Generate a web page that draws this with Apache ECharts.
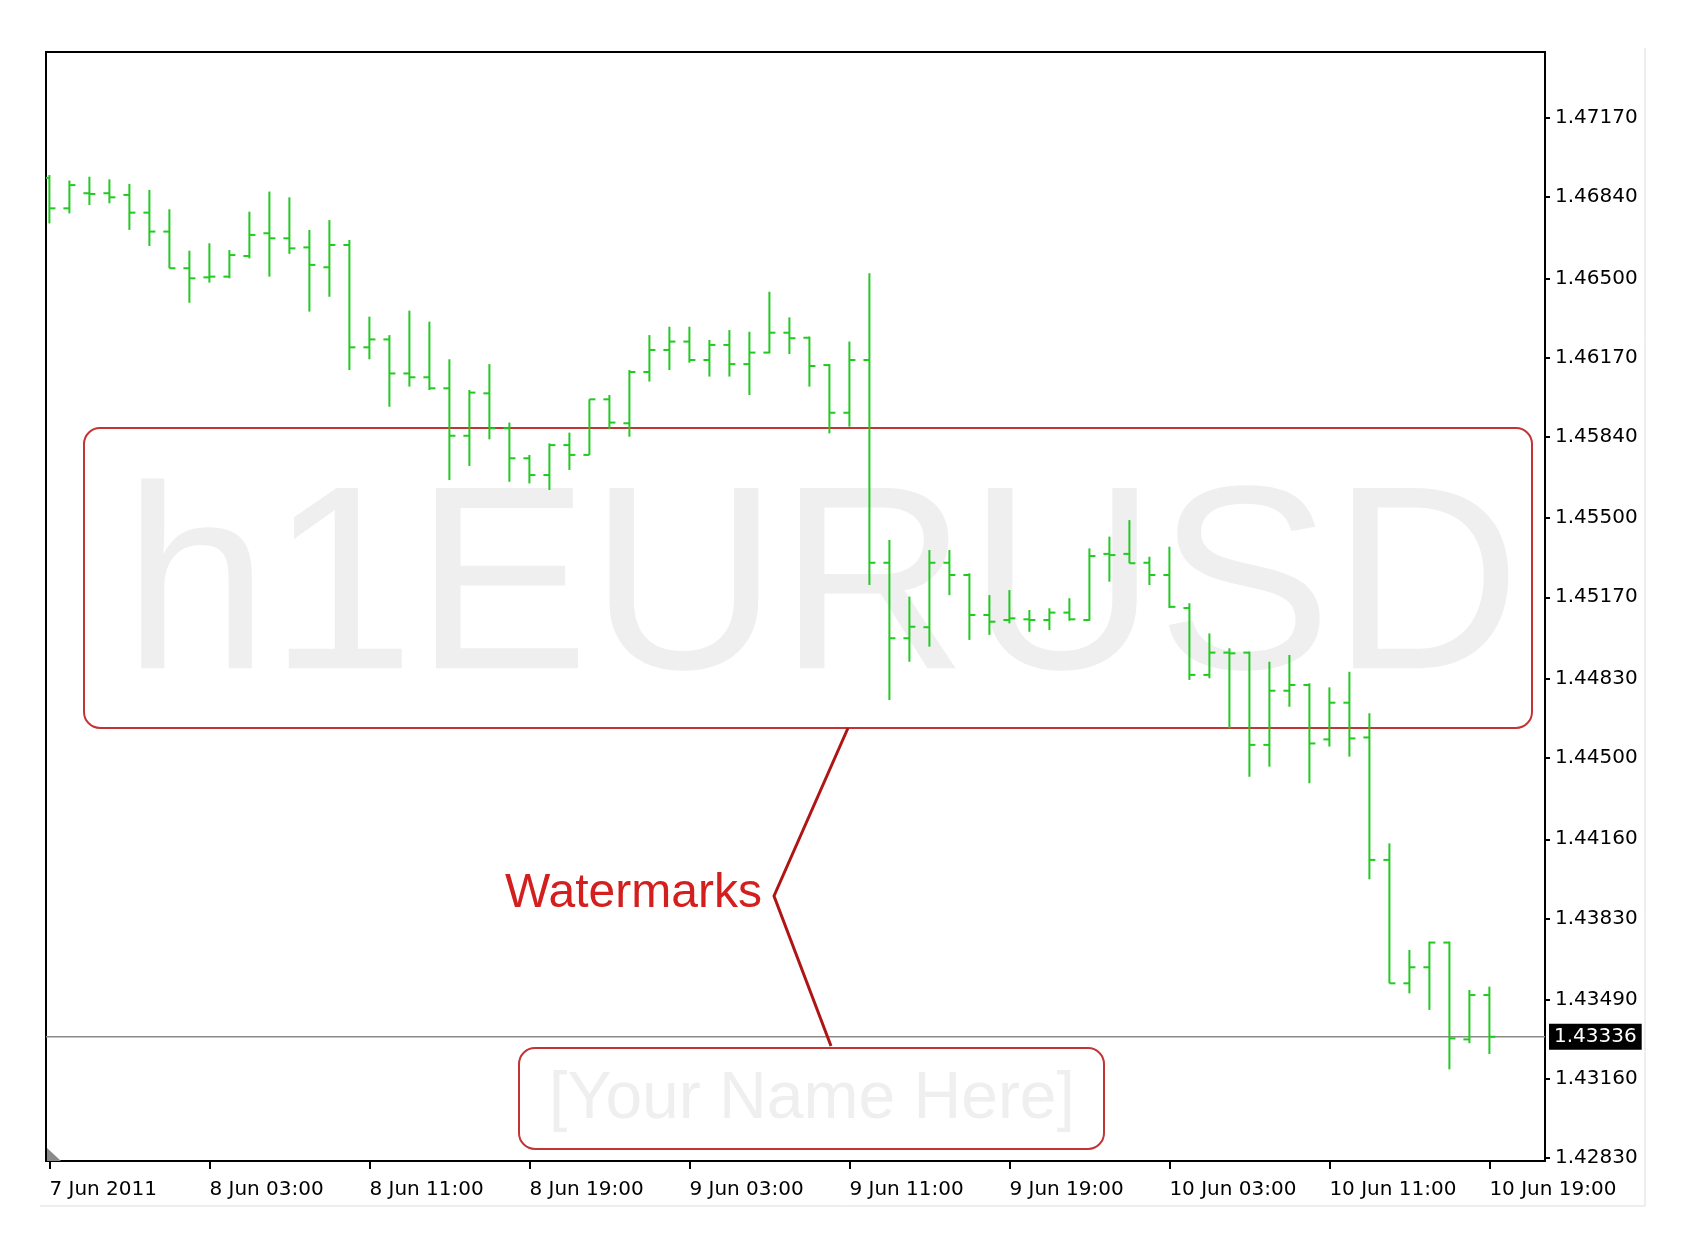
<!DOCTYPE html>
<html><head><meta charset="utf-8">
<script src="https://cdn.jsdelivr.net/npm/echarts@6/dist/echarts.min.js"></script>
<style>html,body{margin:0;padding:0;background:#fff;}#c{width:1686px;height:1256px;}</style>
</head><body><div id="c"></div>
<script>
// ---- data (hourly EURUSD bars, 7 Jun 2011 19:00 .. 10 Jun 2011 19:00) ----
const xTickBars = [0, 8, 16, 24, 32, 40, 48, 56, 64, 72];
const xTickLabels = ['7 Jun 2011', '8 Jun 03:00', '8 Jun 11:00', '8 Jun 19:00', '9 Jun 03:00',
  '9 Jun 11:00', '9 Jun 19:00', '10 Jun 03:00', '10 Jun 11:00', '10 Jun 19:00'];
const yTickLabels = ['1.42830', '1.43160', '1.43490', '1.43830', '1.44160', '1.44500', '1.44830',
  '1.45170', '1.45500', '1.45840', '1.46170', '1.46500', '1.46840', '1.47170'];

const openP = [
  1.46920, 1.46793, 1.46856, 1.46856, 1.46849, 1.46775, 1.46696, 1.46543, 1.46505, 1.46508,
  1.46594, 1.46689, 1.46668, 1.46630, 1.46547, 1.46640, 1.46213, 1.46246, 1.46104, 1.46088,
  1.46042, 1.45844, 1.46021, 1.45875, 1.45750, 1.45680, 1.45805, 1.45764, 1.45996, 1.45896,
  1.46110, 1.46202, 1.46237, 1.46160, 1.46223, 1.46143, 1.46191, 1.46274, 1.46253, 1.46139,
  1.45940, 1.46160, 1.45314, 1.44999, 1.45045, 1.45314, 1.45263, 1.45096, 1.45075, 1.45078,
  1.45075, 1.45106, 1.45075, 1.45351, 1.45351, 1.45314, 1.45263, 1.45125, 1.44846, 1.44939,
  1.44939, 1.44554, 1.44780, 1.44804, 1.44577, 1.44730, 1.44585, 1.44074, 1.43559, 1.43626,
  1.43729, 1.43325, 1.43510];
const highP = [
  1.46932, 1.46909, 1.46925, 1.46914, 1.46895, 1.46870, 1.46789, 1.46616, 1.46647, 1.46619,
  1.46779, 1.46863, 1.46839, 1.46703, 1.46744, 1.46661, 1.46341, 1.46264, 1.46366, 1.46320,
  1.46163, 1.46035, 1.46143, 1.45899, 1.45764, 1.45812, 1.45857, 1.45996, 1.46014, 1.46118,
  1.46264, 1.46299, 1.46299, 1.46244, 1.46285, 1.46278, 1.46445, 1.46338, 1.46258, 1.46143,
  1.46237, 1.46522, 1.45409, 1.45173, 1.45367, 1.45367, 1.45270, 1.45179, 1.45200, 1.45117,
  1.45124, 1.45166, 1.45374, 1.45423, 1.45492, 1.45339, 1.45381, 1.45145, 1.45019, 1.44957,
  1.44943, 1.44901, 1.44929, 1.44811, 1.44794, 1.44859, 1.44686, 1.44143, 1.43698, 1.43733,
  1.43733, 1.43531, 1.43545];
const lowP = [
  1.46730, 1.46772, 1.46807, 1.46814, 1.46703, 1.46636, 1.46543, 1.46399, 1.46483, 1.46501,
  1.46584, 1.46508, 1.46603, 1.46362, 1.46424, 1.46118, 1.46163, 1.45965, 1.46049, 1.46035,
  1.45659, 1.45718, 1.45829, 1.45652, 1.45645, 1.45618, 1.45701, 1.45764, 1.45871, 1.45840,
  1.46070, 1.46118, 1.46149, 1.46091, 1.46091, 1.46014, 1.46188, 1.46185, 1.46049, 1.45854,
  1.45882, 1.45221, 1.44741, 1.44901, 1.44964, 1.45179, 1.44992, 1.45013, 1.45061, 1.45026,
  1.45033, 1.45072, 1.45072, 1.45235, 1.45312, 1.45221, 1.45125, 1.44825, 1.44832, 1.44623,
  1.44421, 1.44463, 1.44713, 1.44394, 1.44547, 1.44505, 1.43993, 1.43559, 1.43517, 1.43448,
  1.43200, 1.43309, 1.43264];
const closeP = [
  1.46793, 1.46890, 1.46853, 1.46839, 1.46775, 1.46696, 1.46543, 1.46501, 1.46508, 1.46598,
  1.46682, 1.46668, 1.46626, 1.46557, 1.46640, 1.46213, 1.46246, 1.46104, 1.46088, 1.46042,
  1.45844, 1.46024, 1.45875, 1.45750, 1.45680, 1.45805, 1.45764, 1.45996, 1.45899, 1.46110,
  1.46202, 1.46237, 1.46160, 1.46223, 1.46143, 1.46191, 1.46274, 1.46251, 1.46135, 1.45940,
  1.46160, 1.45314, 1.44999, 1.45047, 1.45314, 1.45263, 1.45096, 1.45068, 1.45082, 1.45075,
  1.45106, 1.45078, 1.45342, 1.45346, 1.45312, 1.45263, 1.45130, 1.44846, 1.44939, 1.44936,
  1.44554, 1.44780, 1.44804, 1.44560, 1.44730, 1.44581, 1.44074, 1.43559, 1.43626, 1.43729,
  1.43329, 1.43510, 1.43336];
const watermarkMain = 'h1EURUSD';
const watermarkName = '[Your Name Here]';
const annotationText = 'Watermarks';

// ---- chart ----
const barColor = '#22c922';
const xMin = -0.17, xMax = 74.78;
const ohlc = openP.map((o, i) => [i, o, highP[i], lowP[i], closeP[i]]);
const yTickValues = yTickLabels.map(Number);
const lastPrice = closeP[closeP.length - 1];
const axisFont = { fontFamily: 'DejaVu Sans', fontSize: 20, color: '#000' };

const chart = echarts.init(document.getElementById('c'), null, { renderer: 'canvas' });
chart.setOption({
  animation: false,
  backgroundColor: '#fff',
  grid: { left: 46, top: 52, right: 141, bottom: 95, show: true, borderColor: '#000', borderWidth: 2, backgroundColor: 'transparent' },
  xAxis: {
    type: 'value', min: xMin, max: xMax, position: 'bottom',
    axisLine: { show: true, onZero: false, lineStyle: { color: '#000', width: 2 } },
    axisTick: { show: true, customValues: xTickBars, length: 8, lineStyle: { color: '#000', width: 2 } },
    axisLabel: Object.assign({ customValues: xTickBars, align: 'left', margin: 19,
      formatter: v => xTickLabels[xTickBars.indexOf(Math.round(v))] }, axisFont),
    splitLine: { show: false }
  },
  yAxis: {
    type: 'value', position: 'right', min: 1.428175, max: 1.474454, scale: true,
    axisLine: { show: true, onZero: false, lineStyle: { color: '#000', width: 2 } },
    axisTick: { show: true, customValues: yTickValues, length: 5, lineStyle: { color: '#000', width: 2 } },
    axisLabel: Object.assign({ customValues: yTickValues, margin: 10, formatter: v => v.toFixed(5) }, axisFont),
    splitLine: { show: false }
  },
  graphic: [
    { type: 'text', z: 0, x: 822, y: 596, style: { text: watermarkMain, fontFamily: 'Liberation Sans', fontSize: 262,
      fill: '#efefef', textAlign: 'center', textVerticalAlign: 'middle' } },
    { type: 'rect', z: 1, shape: { x: 84, y: 428, width: 1448, height: 300, r: 16 },
      style: { fill: 'none', stroke: '#c33434', lineWidth: 2 } },
    { type: 'rect', z: 1, shape: { x: 519, y: 1048, width: 585, height: 101, r: 16 },
      style: { fill: 'none', stroke: '#c33434', lineWidth: 2 } },
    { type: 'text', z: 0, x: 812, y: 1100, style: { text: watermarkName, fontFamily: 'Liberation Sans', fontSize: 66,
      fill: '#efefef', textAlign: 'center', textVerticalAlign: 'middle' } },
    { type: 'text', z: 5, x: 505, y: 894, style: { text: annotationText, fontFamily: 'Liberation Sans', fontSize: 48,
      fill: '#d41f1f', textAlign: 'left', textVerticalAlign: 'middle' } },
    { type: 'polyline', z: 5, shape: { points: [[848, 728], [774, 896], [831, 1046]] },
      style: { fill: 'none', stroke: '#b01515', lineWidth: 3 } },
    { type: 'polygon', z: 5, shape: { points: [[47, 1148], [47, 1161], [61, 1161]] },
      style: { fill: '#8a8a8a' } },
    { type: 'line', z: 0, shape: { x1: 1645, y1: 48, x2: 1645, y2: 1206 }, style: { stroke: '#dddddd', lineWidth: 1 } },
    { type: 'line', z: 0, shape: { x1: 40, y1: 1206, x2: 1645, y2: 1206 }, style: { stroke: '#dddddd', lineWidth: 1 } }
  ],
  series: [{
    type: 'line',
    z: 2,
    silent: true,
    symbol: 'none',
    data: [[xMin, lastPrice], [xMax, lastPrice]],
    lineStyle: { color: '#8a8a8a', width: 1.5 },
    endLabel: { show: true, distance: 4, formatter: () => lastPrice.toFixed(5),
      backgroundColor: '#000', color: '#fff', padding: [3, 5], fontFamily: 'DejaVu Sans', fontSize: 20 }
  }, {
    type: 'custom',
    z: 3,
    clip: true,
    data: ohlc,
    encode: { x: 0, y: [1, 2, 3, 4] },
    renderItem: function (params, api) {
      const x = api.value(0);
      const o = api.coord([x, api.value(1)]);
      const h = api.coord([x, api.value(2)]);
      const l = api.coord([x, api.value(3)]);
      const c = api.coord([x, api.value(4)]);
      const st = { stroke: barColor, lineWidth: 2 };
      const t = 6;
      return {
        type: 'group',
        children: [
          { type: 'line', shape: { x1: h[0], y1: h[1], x2: l[0], y2: l[1] }, style: st },
          { type: 'line', shape: { x1: o[0] - t, y1: o[1], x2: o[0], y2: o[1] }, style: st },
          { type: 'line', shape: { x1: c[0], y1: c[1], x2: c[0] + t, y2: c[1] }, style: st }
        ]
      };
    }
  }]
});
</script></body></html>
